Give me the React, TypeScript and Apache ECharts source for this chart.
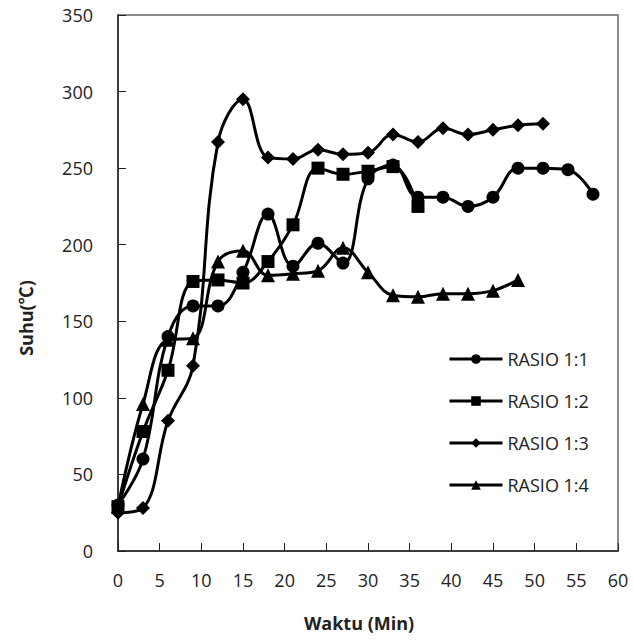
import React, { useEffect, useRef } from "react";
import * as echarts from "echarts";

const times = [0, 3, 6, 9, 12, 15, 18, 21, 24, 27, 30, 33, 36, 39, 42, 45, 48, 51, 54, 57];
const rasio11 = [30, 60, 140, 160, 160, 182, 220, 186, 201, 188, 243, 252, 231, 231, 225, 231, 250, 250, 249, 233];
const rasio12 = [29, 78, 118, 176, 177, 175, 189, 213, 250, 246, 248, 251, 225];
const rasio13 = [25, 28, 85, 121, 267, 295, 257, 256, 262, 259, 260, 272, 267, 276, 272, 275, 278, 279];
const rasio14 = [29, 96, 138, 139, 189, 196, 180, 181, 183, 198, 182, 167, 166, 168, 168, 170, 177];

const seriesNames = ["RASIO 1:1", "RASIO 1:2", "RASIO 1:3", "RASIO 1:4"];
const xTicks = [0, 5, 10, 15, 20, 25, 30, 35, 40, 45, 50, 55, 60];
const yTicks = [0, 50, 100, 150, 200, 250, 300, 350];

const FONT = '"Open Sans", Lato, "Liberation Sans", sans-serif';

function pairs(vals: number[]) {
  return vals.map((v, i) => [times[i], v]);
}

export default function App() {
  const ref = useRef<HTMLDivElement>(null);
  useEffect(() => {
    if (!ref.current) return;
    const chart = echarts.init(ref.current, undefined, { renderer: "svg" });
    const mk = (name: string, vals: number[], symbol: string, size: number) => ({
      name,
      type: "line",
      data: pairs(vals),
      smooth: 0.4,
      symbol,
      symbolSize: size,
      showSymbol: true,
      lineStyle: { color: "#000", width: 3 },
      itemStyle: { color: "#000" },
      emphasis: { disabled: true },
    });
    chart.setOption({
      animation: false,
      backgroundColor: "#fff",
      textStyle: { fontFamily: FONT },
      grid: {
        left: 118,
        right: 15,
        top: 15,
        bottom: 90,
        show: true,
        borderColor: "#666",
        borderWidth: 1.5,
      },
      xAxis: {
        type: "value",
        min: xTicks[0],
        max: xTicks[xTicks.length - 1],
        interval: 5,
        axisLine: { show: true, lineStyle: { color: "#222", width: 1.5 } },
        axisTick: { show: true, inside: true, length: 8, lineStyle: { color: "#222" } },
        splitLine: { show: false },
        axisLabel: { color: "#222", fontSize: 18, margin: 20, fontFamily: FONT },
      },
      yAxis: {
        type: "value",
        min: yTicks[0],
        max: yTicks[yTicks.length - 1],
        interval: 50,
        axisLine: { show: true, lineStyle: { color: "#222", width: 1.5 } },
        axisTick: { show: true, inside: true, length: 8, lineStyle: { color: "#222" } },
        splitLine: { show: false },
        axisLabel: { color: "#222", fontSize: 18, margin: 25, fontFamily: FONT },
      },
      legend: {
        orient: "vertical",
        left: 443,
        top: 345,
        itemWidth: 53,
        itemHeight: 12,
        itemGap: 24,
        data: seriesNames,
        lineStyle: { width: 3 },
        textStyle: { color: "#222", fontSize: 18, fontFamily: FONT, padding: [0, 0, 0, 0] },
        selectedMode: false,
      },
      graphic: [
        {
          type: "text",
          x: 359,
          y: 623,
          style: {
            text: "Waktu (Min)",
            font: `bold 18px ${FONT}`,
            fill: "#222",
            align: "center",
            verticalAlign: "middle",
          },
        },
        {
          type: "text",
          x: 26,
          y: 318,
          rotation: Math.PI / 2,
          style: {
            text: "Suhu(℃)",
            font: `bold 18px "Open Sans", "Noto Sans CJK SC", sans-serif`,
            fill: "#222",
            align: "center",
            verticalAlign: "middle",
          },
        },
      ],
      series: [
        mk(seriesNames[0], rasio11, "circle", 13),
        mk(seriesNames[1], rasio12, "rect", 13),
        mk(seriesNames[2], rasio13, "diamond", 14),
        mk(seriesNames[3], rasio14, "triangle", 14),
      ],
    });
    return () => chart.dispose();
  }, []);
  return <div ref={ref} style={{ width: 633, height: 641, position: "absolute", left: 0, top: 0 }} />;
}
